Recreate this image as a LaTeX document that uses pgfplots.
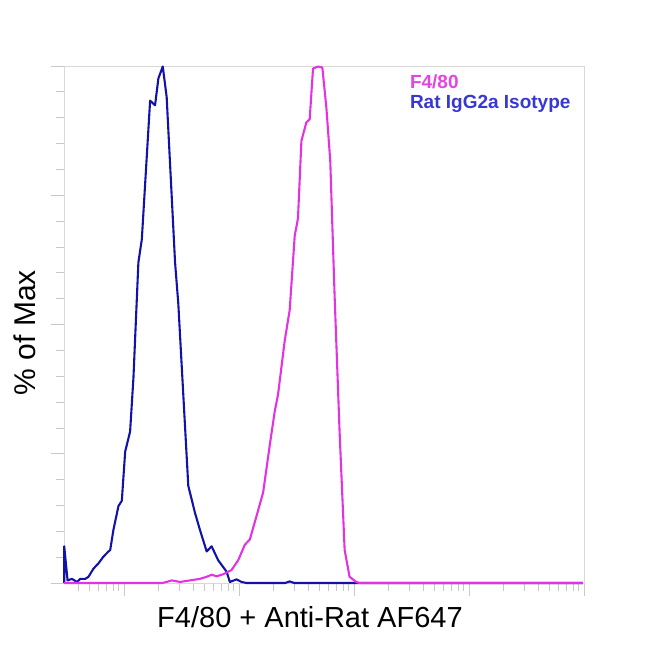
\documentclass[border=0pt]{standalone}
\usepackage{pgfplots}
\pgfplotsset{compat=1.18}
\usepackage{fontspec}
\setmainfont{Liberation Sans}
\definecolor{isoblue}{RGB}{18,18,170}
\definecolor{fmag}{RGB}{226,50,226}
\definecolor{legblue}{RGB}{55,55,210}
\definecolor{legmag}{RGB}{226,70,226}
\definecolor{framegray}{RGB}{216,216,216}
\definecolor{tickgray}{RGB}{200,200,200}

\pgfplotstableread{
x y
0.479 0
0.479 7.1
0.508 0.5
0.546 0.8
0.590 0.2
0.618 0.8
0.662 0.8
0.690 1.2
0.734 2.8
0.777 3.8
0.820 5.1
0.864 6.1
0.879 6.4
0.907 10.3
0.951 14.9
0.980 15.9
1.009 25.4
1.052 29.3
1.081 39.7
1.124 62.0
1.154 66.5
1.226 93.3
1.269 92.4
1.298 97.6
1.336 99.9
1.370 94.0
1.443 62.0
1.471 54.1
1.558 18.8
1.616 13.6
1.659 10.3
1.718 6.1
1.761 7.1
1.818 4.4
1.891 2.2
1.920 0.2
1.978 0.7
2.021 0.2
2.065 0
2.400 0
2.440 0.3
2.480 0
4.990 0
}\isotype

\pgfplotstableread{
x y
0.479 0
1.330 0
1.370 0.2
1.414 0.5
1.486 0.2
1.573 0.5
1.659 0.8
1.718 1.2
1.761 1.6
1.804 1.3
1.862 1.7
1.934 2.5
1.992 4.4
2.050 7.4
2.093 8.4
2.151 12.9
2.209 17.5
2.267 26.7
2.310 33.2
2.339 36.5
2.397 46.9
2.440 52.8
2.484 67.2
2.512 70.5
2.542 85.5
2.585 89.1
2.614 89.7
2.643 99.5
2.686 99.9
2.724 99.7
2.759 92.0
2.793 81.6
2.831 55.4
2.874 29.3
2.918 6.4
2.961 1.2
3.019 0.2
3.048 0
4.990 0
}\ffeighty

\begin{document}
\begin{tikzpicture}
\path[use as bounding box] (0,0) rectangle (650bp,650bp);
\begin{axis}[
  at={(64bp,67bp)}, anchor=south west,
  scale only axis,
  width=520bp, height=517bp,
  xmin=0.477, xmax=5,
  ymin=0, ymax=100,
  clip=false,
  axis line style={framegray, line width=0.8pt},
  xtick={1,2,3,4,5},
  minor xtick={0.602,0.699,0.778,0.845,0.903,0.954,
               1.301,1.477,1.602,1.699,1.778,1.845,1.903,1.954,
               2.301,2.477,2.602,2.699,2.778,2.845,2.903,2.954,
               3.301,3.477,3.602,3.699,3.778,3.845,3.903,3.954,
               4.301,4.477,4.602,4.699,4.778,4.845,4.903,4.954},
  ytick={0,25,50,75,100},
  minor ytick={5,10,15,20,30,35,40,45,55,60,65,70,80,85,90,95},
  xticklabels={}, yticklabels={},
  tick align=outside,
  xtick pos=bottom, ytick pos=left,
  major tick length=13bp, minor tick length=8bp,
  tick style={tickgray, line width=0.7pt},
  xlabel={F4/80 + Anti-Rat AF647},
  ylabel={\% of Max},
  xlabel style={at={(axis description cs:0.473,0)}, anchor=base, yshift=-45bp,
                font=\fontsize{29bp}{34bp}\selectfont},
  ylabel style={at={(axis description cs:0,0.484)}, anchor=base, yshift=29bp,
                font=\fontsize{30bp}{35bp}\selectfont},
]
\addplot[isoblue, line width=2.1pt, line join=round, mark=none] table[x=x,y=y] {\isotype};
\addplot[fmag, line width=2.1pt, line join=round, mark=none] table[x=x,y=y] {\ffeighty};
\node[anchor=base west, inner sep=0pt, text=legmag, font=\bfseries\fontsize{19bp}{23bp}\selectfont]
  at (axis description cs:0.665,0.9555) {F4/80};
\node[anchor=base west, inner sep=0pt, text=legblue, font=\bfseries\fontsize{19bp}{23bp}\selectfont]
  at (axis description cs:0.665,0.917) {Rat IgG2a Isotype};
\end{axis}
\end{tikzpicture}
\end{document}
